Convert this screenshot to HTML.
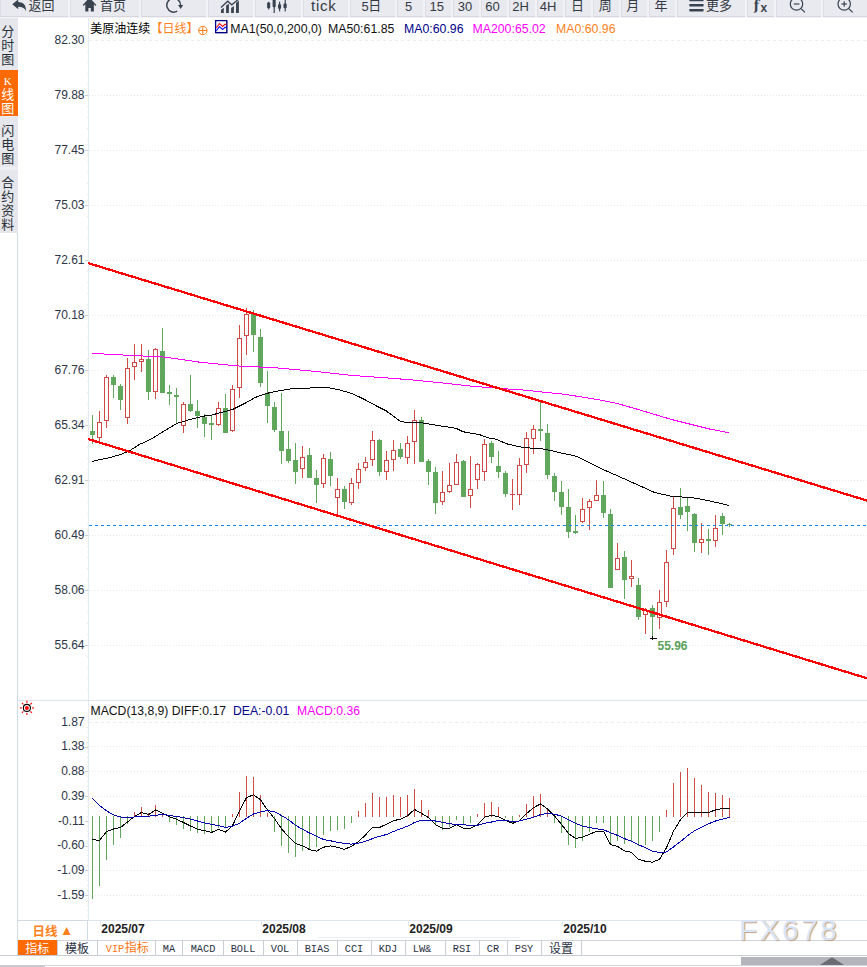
<!DOCTYPE html><html><head><meta charset="utf-8"><title>chart</title><style>
html,body{margin:0;padding:0}
body{width:867px;height:967px;overflow:hidden;background:#fff;position:relative;font-family:"Liberation Sans","Noto Sans CJK SC",sans-serif;}
#tb{position:absolute;left:0;top:0;width:867px;height:18px;background:#f3f3f7;overflow:hidden}
.b{position:absolute;top:0;height:17px;background:#e9eaf0;border-left:1px solid #dddee5;border-bottom:1px solid #d6d7de;box-sizing:border-box;color:#333a44;white-space:nowrap;overflow:hidden}
#tb span{white-space:nowrap;color:#333a44}
.cj{font-size:13px;line-height:13px;top:-1.3px;font-weight:400}
.dg{font-size:13px;line-height:13px;top:-0.4px}
#sb{position:absolute;left:0;top:18px;width:18px;height:215px;background:#eeeff3}
.st{position:absolute;left:0;width:18px;background:#e6e7ed;color:#2a3038;font-size:13px;line-height:14px;text-align:center;box-sizing:border-box;font-weight:400;padding-right:2.4px}
.st.on{background:#ff6a00;color:#fff}
#bt{position:absolute;left:18px;top:940px;height:15px;width:849px;border-top:1px solid #d0d4dc;box-sizing:border-box}
.t{position:absolute;top:-1px;height:15px;border-right:1px solid #c9cdd6;overflow:hidden;box-sizing:border-box;font-family:"Liberation Mono","Noto Sans CJK SC",monospace;font-size:10px;line-height:15px;text-align:center;color:#2a3142;white-space:nowrap}
.t i{display:inline-block;font-style:normal;transform:scale(1.03,1.15);transform-origin:50% 60%;position:relative;top:2px}
</style></head><body>
<svg width="867" height="967" viewBox="0 0 867 967" style="position:absolute;left:0;top:0" font-family='"Liberation Sans","Noto Sans CJK SC",sans-serif'><g shape-rendering="crispEdges" fill="none"><line x1="89" x2="867" y1="40.5" y2="40.5" stroke="#e8edf2" stroke-dasharray="3 3"/><line x1="89" x2="867" y1="95.5" y2="95.5" stroke="#e6ebf1" stroke-dasharray="1 2"/><line x1="89" x2="867" y1="150.5" y2="150.5" stroke="#e6ebf1" stroke-dasharray="1 2"/><line x1="89" x2="867" y1="205.5" y2="205.5" stroke="#e6ebf1" stroke-dasharray="1 2"/><line x1="89" x2="867" y1="260.5" y2="260.5" stroke="#e6ebf1" stroke-dasharray="1 2"/><line x1="89" x2="867" y1="315.5" y2="315.5" stroke="#e6ebf1" stroke-dasharray="1 2"/><line x1="89" x2="867" y1="370.5" y2="370.5" stroke="#e6ebf1" stroke-dasharray="1 2"/><line x1="89" x2="867" y1="425.5" y2="425.5" stroke="#e6ebf1" stroke-dasharray="1 2"/><line x1="89" x2="867" y1="480.5" y2="480.5" stroke="#e6ebf1" stroke-dasharray="1 2"/><line x1="89" x2="867" y1="535.5" y2="535.5" stroke="#e6ebf1" stroke-dasharray="1 2"/><line x1="89" x2="867" y1="590.5" y2="590.5" stroke="#e6ebf1" stroke-dasharray="1 2"/><line x1="89" x2="867" y1="645.5" y2="645.5" stroke="#e6ebf1" stroke-dasharray="1 2"/><line x1="89" x2="867" y1="722.5" y2="722.5" stroke="#e8edf2" stroke-dasharray="3 3"/><line x1="89" x2="867" y1="746.5" y2="746.5" stroke="#e6ebf1" stroke-dasharray="1 2"/><line x1="89" x2="867" y1="771.5" y2="771.5" stroke="#e6ebf1" stroke-dasharray="1 2"/><line x1="89" x2="867" y1="796.5" y2="796.5" stroke="#e6ebf1" stroke-dasharray="1 2"/><line x1="89" x2="867" y1="821.5" y2="821.5" stroke="#e6ebf1" stroke-dasharray="1 2"/><line x1="89" x2="867" y1="845.5" y2="845.5" stroke="#e6ebf1" stroke-dasharray="1 2"/><line x1="89" x2="867" y1="870.5" y2="870.5" stroke="#e6ebf1" stroke-dasharray="1 2"/><line x1="89" x2="867" y1="895.5" y2="895.5" stroke="#e6ebf1" stroke-dasharray="1 2"/><line x1="88.5" x2="88.5" y1="18" y2="921" stroke="#e4eaf1"/><line x1="17.5" x2="17.5" y1="233" y2="956" stroke="#d2dae4"/><line x1="86.5" x2="88" y1="51.5" y2="51.5" stroke="#e4eaf1"/><line x1="86.5" x2="88" y1="62.5" y2="62.5" stroke="#e4eaf1"/><line x1="86.5" x2="88" y1="73.5" y2="73.5" stroke="#e4eaf1"/><line x1="86.5" x2="88" y1="84.5" y2="84.5" stroke="#e4eaf1"/><line x1="85" x2="88" y1="95.5" y2="95.5" stroke="#c9ced6"/><line x1="86.5" x2="88" y1="106.5" y2="106.5" stroke="#e4eaf1"/><line x1="86.5" x2="88" y1="117.5" y2="117.5" stroke="#e4eaf1"/><line x1="86.5" x2="88" y1="128.5" y2="128.5" stroke="#e4eaf1"/><line x1="86.5" x2="88" y1="139.5" y2="139.5" stroke="#e4eaf1"/><line x1="85" x2="88" y1="150.5" y2="150.5" stroke="#c9ced6"/><line x1="86.5" x2="88" y1="161.5" y2="161.5" stroke="#e4eaf1"/><line x1="86.5" x2="88" y1="172.5" y2="172.5" stroke="#e4eaf1"/><line x1="86.5" x2="88" y1="183.5" y2="183.5" stroke="#e4eaf1"/><line x1="86.5" x2="88" y1="194.5" y2="194.5" stroke="#e4eaf1"/><line x1="85" x2="88" y1="205.5" y2="205.5" stroke="#c9ced6"/><line x1="86.5" x2="88" y1="216.5" y2="216.5" stroke="#e4eaf1"/><line x1="86.5" x2="88" y1="227.5" y2="227.5" stroke="#e4eaf1"/><line x1="86.5" x2="88" y1="238.5" y2="238.5" stroke="#e4eaf1"/><line x1="86.5" x2="88" y1="249.5" y2="249.5" stroke="#e4eaf1"/><line x1="85" x2="88" y1="260.5" y2="260.5" stroke="#c9ced6"/><line x1="86.5" x2="88" y1="271.5" y2="271.5" stroke="#e4eaf1"/><line x1="86.5" x2="88" y1="282.5" y2="282.5" stroke="#e4eaf1"/><line x1="86.5" x2="88" y1="293.5" y2="293.5" stroke="#e4eaf1"/><line x1="86.5" x2="88" y1="304.5" y2="304.5" stroke="#e4eaf1"/><line x1="85" x2="88" y1="315.5" y2="315.5" stroke="#c9ced6"/><line x1="86.5" x2="88" y1="326.5" y2="326.5" stroke="#e4eaf1"/><line x1="86.5" x2="88" y1="337.5" y2="337.5" stroke="#e4eaf1"/><line x1="86.5" x2="88" y1="348.5" y2="348.5" stroke="#e4eaf1"/><line x1="86.5" x2="88" y1="359.5" y2="359.5" stroke="#e4eaf1"/><line x1="85" x2="88" y1="370.5" y2="370.5" stroke="#c9ced6"/><line x1="86.5" x2="88" y1="381.5" y2="381.5" stroke="#e4eaf1"/><line x1="86.5" x2="88" y1="392.5" y2="392.5" stroke="#e4eaf1"/><line x1="86.5" x2="88" y1="403.5" y2="403.5" stroke="#e4eaf1"/><line x1="86.5" x2="88" y1="414.5" y2="414.5" stroke="#e4eaf1"/><line x1="85" x2="88" y1="425.5" y2="425.5" stroke="#c9ced6"/><line x1="86.5" x2="88" y1="436.5" y2="436.5" stroke="#e4eaf1"/><line x1="86.5" x2="88" y1="447.5" y2="447.5" stroke="#e4eaf1"/><line x1="86.5" x2="88" y1="458.5" y2="458.5" stroke="#e4eaf1"/><line x1="86.5" x2="88" y1="469.5" y2="469.5" stroke="#e4eaf1"/><line x1="85" x2="88" y1="480.5" y2="480.5" stroke="#c9ced6"/><line x1="86.5" x2="88" y1="491.5" y2="491.5" stroke="#e4eaf1"/><line x1="86.5" x2="88" y1="502.5" y2="502.5" stroke="#e4eaf1"/><line x1="86.5" x2="88" y1="513.5" y2="513.5" stroke="#e4eaf1"/><line x1="86.5" x2="88" y1="524.5" y2="524.5" stroke="#e4eaf1"/><line x1="85" x2="88" y1="535.5" y2="535.5" stroke="#c9ced6"/><line x1="86.5" x2="88" y1="546.5" y2="546.5" stroke="#e4eaf1"/><line x1="86.5" x2="88" y1="557.5" y2="557.5" stroke="#e4eaf1"/><line x1="86.5" x2="88" y1="568.5" y2="568.5" stroke="#e4eaf1"/><line x1="86.5" x2="88" y1="579.5" y2="579.5" stroke="#e4eaf1"/><line x1="85" x2="88" y1="590.5" y2="590.5" stroke="#c9ced6"/><line x1="86.5" x2="88" y1="601.5" y2="601.5" stroke="#e4eaf1"/><line x1="86.5" x2="88" y1="612.5" y2="612.5" stroke="#e4eaf1"/><line x1="86.5" x2="88" y1="623.5" y2="623.5" stroke="#e4eaf1"/><line x1="86.5" x2="88" y1="634.5" y2="634.5" stroke="#e4eaf1"/><line x1="85" x2="88" y1="645.5" y2="645.5" stroke="#c9ced6"/><line x1="86.5" x2="88" y1="656.5" y2="656.5" stroke="#e4eaf1"/><line x1="86.5" x2="88" y1="667.5" y2="667.5" stroke="#e4eaf1"/><line x1="86.5" x2="88" y1="678.5" y2="678.5" stroke="#e4eaf1"/><line x1="86.5" x2="88" y1="689.5" y2="689.5" stroke="#e4eaf1"/><line x1="86.5" x2="88" y1="727.5" y2="727.5" stroke="#e4eaf1"/><line x1="86.5" x2="88" y1="732.5" y2="732.5" stroke="#e4eaf1"/><line x1="86.5" x2="88" y1="737.5" y2="737.5" stroke="#e4eaf1"/><line x1="86.5" x2="88" y1="742.5" y2="742.5" stroke="#e4eaf1"/><line x1="85" x2="88" y1="747.5" y2="747.5" stroke="#c9ced6"/><line x1="86.5" x2="88" y1="752.5" y2="752.5" stroke="#e4eaf1"/><line x1="86.5" x2="88" y1="757.5" y2="757.5" stroke="#e4eaf1"/><line x1="86.5" x2="88" y1="762.5" y2="762.5" stroke="#e4eaf1"/><line x1="86.5" x2="88" y1="766.5" y2="766.5" stroke="#e4eaf1"/><line x1="85" x2="88" y1="771.5" y2="771.5" stroke="#c9ced6"/><line x1="86.5" x2="88" y1="776.5" y2="776.5" stroke="#e4eaf1"/><line x1="86.5" x2="88" y1="781.5" y2="781.5" stroke="#e4eaf1"/><line x1="86.5" x2="88" y1="786.5" y2="786.5" stroke="#e4eaf1"/><line x1="86.5" x2="88" y1="791.5" y2="791.5" stroke="#e4eaf1"/><line x1="85" x2="88" y1="796.5" y2="796.5" stroke="#c9ced6"/><line x1="86.5" x2="88" y1="801.5" y2="801.5" stroke="#e4eaf1"/><line x1="86.5" x2="88" y1="806.5" y2="806.5" stroke="#e4eaf1"/><line x1="86.5" x2="88" y1="811.5" y2="811.5" stroke="#e4eaf1"/><line x1="86.5" x2="88" y1="816.5" y2="816.5" stroke="#e4eaf1"/><line x1="85" x2="88" y1="821.5" y2="821.5" stroke="#c9ced6"/><line x1="86.5" x2="88" y1="826.5" y2="826.5" stroke="#e4eaf1"/><line x1="86.5" x2="88" y1="831.5" y2="831.5" stroke="#e4eaf1"/><line x1="86.5" x2="88" y1="836.5" y2="836.5" stroke="#e4eaf1"/><line x1="86.5" x2="88" y1="841.5" y2="841.5" stroke="#e4eaf1"/><line x1="85" x2="88" y1="846.5" y2="846.5" stroke="#c9ced6"/><line x1="86.5" x2="88" y1="850.5" y2="850.5" stroke="#e4eaf1"/><line x1="86.5" x2="88" y1="855.5" y2="855.5" stroke="#e4eaf1"/><line x1="86.5" x2="88" y1="860.5" y2="860.5" stroke="#e4eaf1"/><line x1="86.5" x2="88" y1="865.5" y2="865.5" stroke="#e4eaf1"/><line x1="85" x2="88" y1="870.5" y2="870.5" stroke="#c9ced6"/><line x1="86.5" x2="88" y1="875.5" y2="875.5" stroke="#e4eaf1"/><line x1="86.5" x2="88" y1="880.5" y2="880.5" stroke="#e4eaf1"/><line x1="86.5" x2="88" y1="885.5" y2="885.5" stroke="#e4eaf1"/><line x1="86.5" x2="88" y1="890.5" y2="890.5" stroke="#e4eaf1"/><line x1="85" x2="88" y1="895.5" y2="895.5" stroke="#c9ced6"/><line x1="86.5" x2="88" y1="900.5" y2="900.5" stroke="#e4eaf1"/><line x1="86.5" x2="88" y1="905.5" y2="905.5" stroke="#e4eaf1"/><line x1="86.5" x2="88" y1="910.5" y2="910.5" stroke="#e4eaf1"/><line x1="86.5" x2="88" y1="915.5" y2="915.5" stroke="#e4eaf1"/><line x1="18" x2="867" y1="700.5" y2="700.5" stroke="#dfe5ee"/><line x1="18" x2="867" y1="920.5" y2="920.5" stroke="#dfe5ee"/><line x1="318" x2="520" y1="937.5" y2="937.5" stroke="#eaeef3"/></g><g shape-rendering="crispEdges"><rect x="92" y="415" width="1" height="29" fill="#60a65c"/><rect x="90" y="431" width="5" height="4" fill="#60a65c"/><rect x="99" y="411" width="1" height="30" fill="#d04a45"/><rect x="97.5" y="422.5" width="4" height="15" fill="#fff" stroke="#d04a45" stroke-width="1"/><rect x="106" y="375" width="1" height="53" fill="#d04a45"/><rect x="104.5" y="377.5" width="4" height="43" fill="#fff" stroke="#d04a45" stroke-width="1"/><rect x="113" y="375" width="1" height="23" fill="#60a65c"/><rect x="111" y="377" width="5" height="8" fill="#60a65c"/><rect x="120" y="384" width="1" height="26" fill="#60a65c"/><rect x="118" y="386" width="5" height="14" fill="#60a65c"/><rect x="127" y="358" width="1" height="66" fill="#d04a45"/><rect x="125.5" y="368.5" width="4" height="49" fill="#fff" stroke="#d04a45" stroke-width="1"/><rect x="134" y="344" width="1" height="36" fill="#d04a45"/><rect x="132.5" y="362.5" width="4" height="4" fill="#fff" stroke="#d04a45" stroke-width="1"/><rect x="141" y="344" width="1" height="28" fill="#d04a45"/><rect x="139.5" y="359.5" width="4" height="2" fill="#fff" stroke="#d04a45" stroke-width="1"/><rect x="148" y="350" width="1" height="50" fill="#60a65c"/><rect x="146" y="359" width="5" height="33" fill="#60a65c"/><rect x="155" y="348" width="1" height="51" fill="#d04a45"/><rect x="153.5" y="349.5" width="4" height="42" fill="#fff" stroke="#d04a45" stroke-width="1"/><rect x="162" y="328" width="1" height="65" fill="#60a65c"/><rect x="160" y="351" width="5" height="42" fill="#60a65c"/><rect x="169" y="385" width="1" height="20" fill="#60a65c"/><rect x="167" y="392" width="5" height="2" fill="#60a65c"/><rect x="176" y="388" width="1" height="35" fill="#60a65c"/><rect x="174" y="395" width="5" height="2" fill="#60a65c"/><rect x="183" y="402" width="1" height="31" fill="#d04a45"/><rect x="181.5" y="404.5" width="4" height="21" fill="#fff" stroke="#d04a45" stroke-width="1"/><rect x="190" y="375" width="1" height="37" fill="#60a65c"/><rect x="188" y="404" width="5" height="7" fill="#60a65c"/><rect x="197" y="400" width="1" height="28" fill="#60a65c"/><rect x="195" y="411" width="5" height="5" fill="#60a65c"/><rect x="204" y="414" width="1" height="23" fill="#60a65c"/><rect x="202" y="417" width="5" height="7" fill="#60a65c"/><rect x="211" y="416" width="1" height="24" fill="#60a65c"/><rect x="209" y="423" width="5" height="2" fill="#60a65c"/><rect x="218" y="402" width="1" height="24" fill="#d04a45"/><rect x="216.5" y="408.5" width="4" height="16" fill="#fff" stroke="#d04a45" stroke-width="1"/><rect x="225" y="394" width="1" height="39" fill="#60a65c"/><rect x="223" y="408" width="5" height="25" fill="#60a65c"/><rect x="232" y="385" width="1" height="47" fill="#d04a45"/><rect x="230.5" y="389.5" width="4" height="41" fill="#fff" stroke="#d04a45" stroke-width="1"/><rect x="239" y="325" width="1" height="73" fill="#d04a45"/><rect x="237.5" y="338.5" width="4" height="49" fill="#fff" stroke="#d04a45" stroke-width="1"/><rect x="246" y="308" width="1" height="47" fill="#d04a45"/><rect x="244.5" y="314.5" width="4" height="21" fill="#fff" stroke="#d04a45" stroke-width="1"/><rect x="253" y="310" width="1" height="42" fill="#60a65c"/><rect x="251" y="313" width="5" height="22" fill="#60a65c"/><rect x="260" y="329" width="1" height="58" fill="#60a65c"/><rect x="258" y="337" width="5" height="46" fill="#60a65c"/><rect x="267" y="371" width="1" height="52" fill="#60a65c"/><rect x="265" y="393" width="5" height="13" fill="#60a65c"/><rect x="274" y="402" width="1" height="30" fill="#60a65c"/><rect x="272" y="407" width="5" height="23" fill="#60a65c"/><rect x="281" y="393" width="1" height="71" fill="#60a65c"/><rect x="279" y="431" width="5" height="20" fill="#60a65c"/><rect x="288" y="431" width="1" height="32" fill="#60a65c"/><rect x="286" y="449" width="5" height="12" fill="#60a65c"/><rect x="295" y="443" width="1" height="41" fill="#60a65c"/><rect x="293" y="460" width="5" height="12" fill="#60a65c"/><rect x="302" y="446" width="1" height="32" fill="#d04a45"/><rect x="300.5" y="457.5" width="4" height="11" fill="#fff" stroke="#d04a45" stroke-width="1"/><rect x="309" y="448" width="1" height="30" fill="#60a65c"/><rect x="307" y="455" width="5" height="23" fill="#60a65c"/><rect x="316" y="470" width="1" height="33" fill="#60a65c"/><rect x="314" y="478" width="5" height="7" fill="#60a65c"/><rect x="323" y="454" width="1" height="34" fill="#d04a45"/><rect x="321.5" y="458.5" width="4" height="25" fill="#fff" stroke="#d04a45" stroke-width="1"/><rect x="330" y="452" width="1" height="34" fill="#60a65c"/><rect x="328" y="459" width="5" height="17" fill="#60a65c"/><rect x="337" y="478" width="1" height="36" fill="#d04a45"/><rect x="335.5" y="489.5" width="4" height="8" fill="#fff" stroke="#d04a45" stroke-width="1"/><rect x="344" y="486" width="1" height="23" fill="#60a65c"/><rect x="342" y="489" width="5" height="13" fill="#60a65c"/><rect x="351" y="478" width="1" height="27" fill="#d04a45"/><rect x="349.5" y="483.5" width="4" height="19" fill="#fff" stroke="#d04a45" stroke-width="1"/><rect x="358" y="463" width="1" height="26" fill="#d04a45"/><rect x="356.5" y="469.5" width="4" height="13" fill="#fff" stroke="#d04a45" stroke-width="1"/><rect x="365" y="457" width="1" height="14" fill="#d04a45"/><rect x="363.5" y="462.5" width="4" height="5" fill="#fff" stroke="#d04a45" stroke-width="1"/><rect x="372" y="431" width="1" height="35" fill="#d04a45"/><rect x="370.5" y="440.5" width="4" height="19" fill="#fff" stroke="#d04a45" stroke-width="1"/><rect x="379" y="439" width="1" height="37" fill="#60a65c"/><rect x="377" y="440" width="5" height="32" fill="#60a65c"/><rect x="386" y="451" width="1" height="29" fill="#d04a45"/><rect x="384.5" y="460.5" width="4" height="11" fill="#fff" stroke="#d04a45" stroke-width="1"/><rect x="393" y="440" width="1" height="31" fill="#d04a45"/><rect x="391.5" y="450.5" width="4" height="9" fill="#fff" stroke="#d04a45" stroke-width="1"/><rect x="400" y="443" width="1" height="16" fill="#60a65c"/><rect x="398" y="449" width="5" height="8" fill="#60a65c"/><rect x="407" y="436" width="1" height="28" fill="#d04a45"/><rect x="405.5" y="443.5" width="4" height="14" fill="#fff" stroke="#d04a45" stroke-width="1"/><rect x="414" y="410" width="1" height="54" fill="#d04a45"/><rect x="412.5" y="420.5" width="4" height="21" fill="#fff" stroke="#d04a45" stroke-width="1"/><rect x="421" y="417" width="1" height="45" fill="#60a65c"/><rect x="419" y="420" width="5" height="42" fill="#60a65c"/><rect x="428" y="459" width="1" height="26" fill="#60a65c"/><rect x="426" y="461" width="5" height="11" fill="#60a65c"/><rect x="435" y="467" width="1" height="47" fill="#60a65c"/><rect x="433" y="472" width="5" height="31" fill="#60a65c"/><rect x="442" y="471" width="1" height="34" fill="#d04a45"/><rect x="440.5" y="492.5" width="4" height="9" fill="#fff" stroke="#d04a45" stroke-width="1"/><rect x="449" y="463" width="1" height="30" fill="#d04a45"/><rect x="447.5" y="485.5" width="4" height="6" fill="#fff" stroke="#d04a45" stroke-width="1"/><rect x="456" y="454" width="1" height="31" fill="#d04a45"/><rect x="454.5" y="462.5" width="4" height="22" fill="#fff" stroke="#d04a45" stroke-width="1"/><rect x="463" y="460" width="1" height="37" fill="#60a65c"/><rect x="461" y="461" width="5" height="36" fill="#60a65c"/><rect x="470" y="456" width="1" height="52" fill="#d04a45"/><rect x="468.5" y="489.5" width="4" height="6" fill="#fff" stroke="#d04a45" stroke-width="1"/><rect x="477" y="463" width="1" height="26" fill="#d04a45"/><rect x="475.5" y="464.5" width="4" height="15" fill="#fff" stroke="#d04a45" stroke-width="1"/><rect x="484" y="439" width="1" height="42" fill="#d04a45"/><rect x="482.5" y="444.5" width="4" height="27" fill="#fff" stroke="#d04a45" stroke-width="1"/><rect x="491" y="441" width="1" height="22" fill="#60a65c"/><rect x="489" y="443" width="5" height="14" fill="#60a65c"/><rect x="498" y="451" width="1" height="27" fill="#60a65c"/><rect x="496" y="466" width="5" height="6" fill="#60a65c"/><rect x="505" y="471" width="1" height="26" fill="#60a65c"/><rect x="503" y="473" width="5" height="21" fill="#60a65c"/><rect x="512" y="479" width="1" height="31" fill="#d04a45"/><rect x="510" y="494" width="5" height="1" fill="#d04a45"/><rect x="519" y="458" width="1" height="47" fill="#d04a45"/><rect x="517.5" y="465.5" width="4" height="29" fill="#fff" stroke="#d04a45" stroke-width="1"/><rect x="526" y="432" width="1" height="41" fill="#d04a45"/><rect x="524.5" y="438.5" width="4" height="26" fill="#fff" stroke="#d04a45" stroke-width="1"/><rect x="533" y="425" width="1" height="29" fill="#d04a45"/><rect x="531.5" y="429.5" width="4" height="9" fill="#fff" stroke="#d04a45" stroke-width="1"/><rect x="540" y="402" width="1" height="39" fill="#60a65c"/><rect x="538" y="429" width="5" height="2" fill="#60a65c"/><rect x="547" y="424" width="1" height="55" fill="#60a65c"/><rect x="545" y="433" width="5" height="42" fill="#60a65c"/><rect x="554" y="473" width="1" height="28" fill="#60a65c"/><rect x="552" y="476" width="5" height="16" fill="#60a65c"/><rect x="561" y="481" width="1" height="34" fill="#60a65c"/><rect x="559" y="492" width="5" height="15" fill="#60a65c"/><rect x="568" y="489" width="1" height="49" fill="#60a65c"/><rect x="566" y="507" width="5" height="25" fill="#60a65c"/><rect x="575" y="515" width="1" height="19" fill="#60a65c"/><rect x="573" y="531" width="5" height="2" fill="#60a65c"/><rect x="582" y="498" width="1" height="25" fill="#d04a45"/><rect x="580.5" y="509.5" width="4" height="12" fill="#fff" stroke="#d04a45" stroke-width="1"/><rect x="589" y="499" width="1" height="31" fill="#d04a45"/><rect x="587.5" y="501.5" width="4" height="6" fill="#fff" stroke="#d04a45" stroke-width="1"/><rect x="596" y="480" width="1" height="21" fill="#d04a45"/><rect x="594.5" y="495.5" width="4" height="5" fill="#fff" stroke="#d04a45" stroke-width="1"/><rect x="603" y="481" width="1" height="37" fill="#60a65c"/><rect x="601" y="495" width="5" height="18" fill="#60a65c"/><rect x="610" y="509" width="1" height="79" fill="#60a65c"/><rect x="608" y="514" width="5" height="74" fill="#60a65c"/><rect x="617" y="543" width="1" height="27" fill="#d04a45"/><rect x="615.5" y="558.5" width="4" height="11" fill="#fff" stroke="#d04a45" stroke-width="1"/><rect x="624" y="551" width="1" height="48" fill="#60a65c"/><rect x="622" y="557" width="5" height="23" fill="#60a65c"/><rect x="631" y="560" width="1" height="27" fill="#d04a45"/><rect x="629.5" y="576.5" width="4" height="2" fill="#fff" stroke="#d04a45" stroke-width="1"/><rect x="638" y="578" width="1" height="42" fill="#60a65c"/><rect x="636" y="585" width="5" height="32" fill="#60a65c"/><rect x="645" y="608" width="1" height="26" fill="#d04a45"/><rect x="643.5" y="610.5" width="4" height="4" fill="#fff" stroke="#d04a45" stroke-width="1"/><rect x="652" y="605" width="1" height="31" fill="#60a65c"/><rect x="650" y="608" width="5" height="9" fill="#60a65c"/><rect x="659" y="590" width="1" height="39" fill="#d04a45"/><rect x="657.5" y="602.5" width="4" height="15" fill="#fff" stroke="#d04a45" stroke-width="1"/><rect x="666" y="550" width="1" height="57" fill="#d04a45"/><rect x="664.5" y="562.5" width="4" height="39" fill="#fff" stroke="#d04a45" stroke-width="1"/><rect x="673" y="497" width="1" height="58" fill="#d04a45"/><rect x="671.5" y="508.5" width="4" height="40" fill="#fff" stroke="#d04a45" stroke-width="1"/><rect x="680" y="488" width="1" height="31" fill="#60a65c"/><rect x="678" y="507" width="5" height="8" fill="#60a65c"/><rect x="687" y="498" width="1" height="33" fill="#60a65c"/><rect x="685" y="506" width="5" height="6" fill="#60a65c"/><rect x="694" y="513" width="1" height="39" fill="#60a65c"/><rect x="692" y="514" width="5" height="29" fill="#60a65c"/><rect x="701" y="523" width="1" height="30" fill="#d04a45"/><rect x="699.5" y="539.5" width="4" height="3" fill="#fff" stroke="#d04a45" stroke-width="1"/><rect x="708" y="529" width="1" height="26" fill="#60a65c"/><rect x="706" y="539" width="5" height="2" fill="#60a65c"/><rect x="715" y="515" width="1" height="32" fill="#d04a45"/><rect x="713.5" y="528.5" width="4" height="12" fill="#fff" stroke="#d04a45" stroke-width="1"/><rect x="722" y="513" width="1" height="22" fill="#60a65c"/><rect x="720" y="516" width="5" height="8" fill="#60a65c"/><rect x="729" y="523" width="1" height="4" fill="#60a65c"/><rect x="727" y="524" width="5" height="1" fill="#60a65c"/></g><line x1="89" x2="867" y1="525.5" y2="525.5" stroke="#0f86ff" stroke-dasharray="3 3" shape-rendering="crispEdges"/><polyline points="92.0,461.5 101.0,459.4 110.6,457.4 122.4,453.9 130.7,450.1 139.0,444.6 145.0,442.1 151.2,439.0 163.3,431.6 176.7,423.5 188.0,420.1 196.0,417.9 205.0,415.9 211.5,415.1 233.0,409.3 246.3,402.6 254.6,397.7 266.2,393.5 279.4,390.7 292.6,388.6 310.0,388.0 319.7,387.5 327.1,387.5 339.5,389.9 351.1,393.2 362.7,398.5 376.0,405.7 385.8,410.6 399.9,421.1 404.8,422.2 421.4,422.7 437.9,425.5 456.2,428.3 462.8,431.7 479.3,434.6 490.0,438.3 496.6,439.3 506.6,443.8 523.1,447.5 544.6,449.1 559.5,452.6 576.1,456.2 589.3,462.8 599.3,467.8 610.0,472.5 638.1,485.0 654.6,492.5 672.8,496.6 691.1,497.4 706.0,500.2 720.0,503.2 728.8,505.6" fill="none" stroke="#000" stroke-width="1" stroke-linejoin="round" shape-rendering="crispEdges"/><polyline points="92.0,353.4 134.5,355.6 165.0,357.1 199.2,362.1 237.3,365.9 275.3,367.8 313.4,371.2 351.5,375.4 389.5,378.1 415.0,380.2 443.1,383.0 470.0,386.0 488.5,387.5 506.9,388.9 525.4,390.2 543.8,392.2 562.3,394.0 580.7,396.8 599.2,399.9 617.6,403.6 633.4,408.1 671.5,419.5 709.5,429.0 728.6,432.8" fill="none" stroke="#ff00ff" stroke-width="1" stroke-linejoin="round" shape-rendering="crispEdges"/><line x1="88" y1="263.1" x2="869" y2="501.2" stroke="#ff0000" stroke-width="2.3" shape-rendering="crispEdges"/><line x1="88" y1="439.0" x2="869" y2="678.9" stroke="#ff0000" stroke-width="2.3" shape-rendering="crispEdges"/><g shape-rendering="crispEdges"><rect x="650" y="638" width="7" height="1" fill="#000"/><rect x="652" y="636" width="1" height="4" fill="#000"/></g><text x="657.5" y="649.6" font-size="12" font-weight="bold" fill="#5aa05a">55.96</text><g shape-rendering="crispEdges"><rect x="92" y="816" width="1" height="83" fill="#60a65c"/><rect x="99" y="816" width="1" height="70" fill="#60a65c"/><rect x="106" y="816" width="1" height="44" fill="#60a65c"/><rect x="113" y="816" width="1" height="29" fill="#60a65c"/><rect x="120" y="816" width="1" height="22" fill="#60a65c"/><rect x="127" y="816" width="1" height="8" fill="#60a65c"/><rect x="134" y="812" width="1" height="5" fill="#d04a45"/><rect x="141" y="807" width="1" height="10" fill="#d04a45"/><rect x="148" y="813" width="1" height="4" fill="#d04a45"/><rect x="155" y="805" width="1" height="12" fill="#d04a45"/><rect x="162" y="813" width="1" height="4" fill="#d04a45"/><rect x="169" y="816" width="1" height="6" fill="#60a65c"/><rect x="176" y="816" width="1" height="9" fill="#60a65c"/><rect x="183" y="816" width="1" height="13" fill="#60a65c"/><rect x="190" y="816" width="1" height="15" fill="#60a65c"/><rect x="197" y="816" width="1" height="17" fill="#60a65c"/><rect x="204" y="816" width="1" height="18" fill="#60a65c"/><rect x="211" y="816" width="1" height="17" fill="#60a65c"/><rect x="218" y="816" width="1" height="12" fill="#60a65c"/><rect x="225" y="816" width="1" height="11" fill="#60a65c"/><rect x="232" y="814" width="1" height="3" fill="#d04a45"/><rect x="239" y="792" width="1" height="25" fill="#d04a45"/><rect x="246" y="776" width="1" height="41" fill="#d04a45"/><rect x="253" y="777" width="1" height="40" fill="#d04a45"/><rect x="260" y="795" width="1" height="22" fill="#d04a45"/><rect x="267" y="813" width="1" height="4" fill="#d04a45"/><rect x="274" y="816" width="1" height="16" fill="#60a65c"/><rect x="281" y="816" width="1" height="30" fill="#60a65c"/><rect x="288" y="816" width="1" height="37" fill="#60a65c"/><rect x="295" y="816" width="1" height="41" fill="#60a65c"/><rect x="302" y="816" width="1" height="35" fill="#60a65c"/><rect x="309" y="816" width="1" height="33" fill="#60a65c"/><rect x="316" y="816" width="1" height="31" fill="#60a65c"/><rect x="323" y="816" width="1" height="19" fill="#60a65c"/><rect x="330" y="816" width="1" height="15" fill="#60a65c"/><rect x="337" y="816" width="1" height="14" fill="#60a65c"/><rect x="344" y="816" width="1" height="13" fill="#60a65c"/><rect x="351" y="816" width="1" height="7" fill="#60a65c"/><rect x="358" y="811" width="1" height="6" fill="#d04a45"/><rect x="365" y="803" width="1" height="14" fill="#d04a45"/><rect x="372" y="793" width="1" height="24" fill="#d04a45"/><rect x="379" y="797" width="1" height="20" fill="#d04a45"/><rect x="386" y="797" width="1" height="20" fill="#d04a45"/><rect x="393" y="795" width="1" height="22" fill="#d04a45"/><rect x="400" y="797" width="1" height="20" fill="#d04a45"/><rect x="407" y="795" width="1" height="22" fill="#d04a45"/><rect x="414" y="789" width="1" height="28" fill="#d04a45"/><rect x="421" y="800" width="1" height="17" fill="#d04a45"/><rect x="428" y="810" width="1" height="7" fill="#d04a45"/><rect x="435" y="816" width="1" height="9" fill="#60a65c"/><rect x="442" y="816" width="1" height="14" fill="#60a65c"/><rect x="449" y="816" width="1" height="11" fill="#60a65c"/><rect x="456" y="816" width="1" height="4" fill="#60a65c"/><rect x="463" y="816" width="1" height="8" fill="#60a65c"/><rect x="470" y="816" width="1" height="7" fill="#60a65c"/><rect x="477" y="814" width="1" height="3" fill="#d04a45"/><rect x="484" y="803" width="1" height="14" fill="#d04a45"/><rect x="491" y="802" width="1" height="15" fill="#d04a45"/><rect x="498" y="807" width="1" height="10" fill="#d04a45"/><rect x="505" y="816" width="1" height="2" fill="#60a65c"/><rect x="512" y="816" width="1" height="7" fill="#60a65c"/><rect x="519" y="815" width="1" height="2" fill="#d04a45"/><rect x="526" y="804" width="1" height="13" fill="#d04a45"/><rect x="533" y="796" width="1" height="21" fill="#d04a45"/><rect x="540" y="794" width="1" height="23" fill="#d04a45"/><rect x="547" y="809" width="1" height="8" fill="#d04a45"/><rect x="554" y="816" width="1" height="7" fill="#60a65c"/><rect x="561" y="816" width="1" height="17" fill="#60a65c"/><rect x="568" y="816" width="1" height="29" fill="#60a65c"/><rect x="575" y="816" width="1" height="32" fill="#60a65c"/><rect x="582" y="816" width="1" height="25" fill="#60a65c"/><rect x="589" y="816" width="1" height="16" fill="#60a65c"/><rect x="596" y="816" width="1" height="7" fill="#60a65c"/><rect x="603" y="816" width="1" height="7" fill="#60a65c"/><rect x="610" y="816" width="1" height="27" fill="#60a65c"/><rect x="617" y="816" width="1" height="25" fill="#60a65c"/><rect x="624" y="816" width="1" height="28" fill="#60a65c"/><rect x="631" y="816" width="1" height="25" fill="#60a65c"/><rect x="638" y="816" width="1" height="30" fill="#60a65c"/><rect x="645" y="816" width="1" height="29" fill="#60a65c"/><rect x="652" y="816" width="1" height="25" fill="#60a65c"/><rect x="659" y="816" width="1" height="16" fill="#60a65c"/><rect x="666" y="810" width="1" height="7" fill="#d04a45"/><rect x="673" y="783" width="1" height="34" fill="#d04a45"/><rect x="680" y="772" width="1" height="45" fill="#d04a45"/><rect x="687" y="768" width="1" height="49" fill="#d04a45"/><rect x="694" y="778" width="1" height="39" fill="#d04a45"/><rect x="701" y="785" width="1" height="32" fill="#d04a45"/><rect x="708" y="792" width="1" height="25" fill="#d04a45"/><rect x="715" y="793" width="1" height="24" fill="#d04a45"/><rect x="722" y="795" width="1" height="22" fill="#d04a45"/><rect x="729" y="798" width="1" height="19" fill="#d04a45"/></g><polyline points="92.5,839.5 99.5,840.4 106.5,831.7 113.5,829.0 120.5,827.5 127.5,822.0 134.5,816.4 141.5,812.4 148.5,814.6 155.5,810.0 162.5,813.1 169.5,816.8 176.5,819.2 183.5,822.5 190.5,826.0 197.5,829.3 204.5,830.6 211.5,832.5 218.5,829.3 225.5,832.1 232.5,825.6 239.5,810.9 246.5,797.6 253.5,794.8 260.5,799.8 267.5,810.0 274.5,818.6 281.5,828.8 288.5,836.7 295.5,843.7 302.5,845.6 309.5,849.6 316.5,851.1 323.5,847.2 330.5,845.9 337.5,847.4 344.5,849.3 351.5,846.3 358.5,841.7 365.5,834.9 372.5,827.5 379.5,827.5 386.5,824.1 393.5,820.6 400.5,819.2 407.5,815.9 414.5,809.4 421.5,813.3 428.5,817.7 435.5,824.7 442.5,828.4 449.5,828.4 456.5,824.7 463.5,828.4 470.5,828.4 477.5,824.7 484.5,817.3 491.5,815.1 498.5,816.8 505.5,820.1 512.5,823.4 519.5,820.7 526.5,813.7 533.5,807.6 540.5,803.9 547.5,809.0 554.5,815.9 561.5,824.4 568.5,833.4 575.5,838.6 582.5,837.1 589.5,834.3 596.5,831.2 603.5,831.2 610.5,844.5 617.5,846.3 624.5,850.9 631.5,852.4 638.5,859.2 645.5,861.3 652.5,862.2 659.5,859.2 666.5,847.8 673.5,831.2 680.5,819.7 687.5,812.4 694.5,812.4 701.5,812.4 708.5,812.4 715.5,810.0 722.5,808.3 729.5,808.3" fill="none" stroke="#000" stroke-width="1" stroke-linejoin="round" shape-rendering="crispEdges"/><polyline points="92.5,798.3 99.5,805.4 106.5,810.9 113.5,814.9 120.5,817.0 127.5,817.9 134.5,817.0 141.5,816.1 148.5,816.1 155.5,815.5 162.5,814.2 169.5,815.5 176.5,816.4 183.5,817.7 190.5,819.2 197.5,821.0 204.5,822.9 211.5,824.4 218.5,825.6 225.5,827.5 232.5,826.2 239.5,823.2 246.5,818.3 253.5,814.0 260.5,811.8 267.5,810.5 274.5,811.8 281.5,815.5 288.5,819.7 295.5,825.3 302.5,829.3 309.5,833.0 316.5,836.3 323.5,839.5 330.5,840.8 337.5,842.3 344.5,843.5 351.5,844.1 358.5,843.2 365.5,841.3 372.5,838.6 379.5,836.3 386.5,834.5 393.5,831.5 400.5,828.8 407.5,826.2 414.5,822.5 421.5,820.1 428.5,820.1 435.5,821.0 442.5,822.3 449.5,823.8 456.5,824.4 463.5,824.7 470.5,825.6 477.5,825.3 484.5,823.4 491.5,822.0 498.5,820.5 505.5,820.5 512.5,821.4 519.5,821.0 526.5,819.2 533.5,817.3 540.5,814.6 547.5,813.3 554.5,814.2 561.5,816.1 568.5,819.7 575.5,823.2 582.5,826.2 589.5,827.5 596.5,828.8 603.5,829.7 610.5,832.7 617.5,835.4 624.5,838.6 631.5,841.3 638.5,844.6 645.5,847.8 652.5,851.1 659.5,852.4 666.5,852.0 673.5,846.9 680.5,841.6 687.5,835.7 694.5,830.8 701.5,827.1 708.5,823.8 715.5,821.0 722.5,819.2 729.5,817.3" fill="none" stroke="#0000b0" stroke-width="1" stroke-linejoin="round" shape-rendering="crispEdges"/><text x="84.5" y="43.8" font-size="12" fill="#2e3548" text-anchor="end">82.30</text><text x="84.5" y="98.8" font-size="12" fill="#2e3548" text-anchor="end">79.88</text><text x="84.5" y="153.8" font-size="12" fill="#2e3548" text-anchor="end">77.45</text><text x="84.5" y="208.8" font-size="12" fill="#2e3548" text-anchor="end">75.03</text><text x="84.5" y="263.8" font-size="12" fill="#2e3548" text-anchor="end">72.61</text><text x="84.5" y="318.8" font-size="12" fill="#2e3548" text-anchor="end">70.18</text><text x="84.5" y="373.8" font-size="12" fill="#2e3548" text-anchor="end">67.76</text><text x="84.5" y="428.8" font-size="12" fill="#2e3548" text-anchor="end">65.34</text><text x="84.5" y="483.8" font-size="12" fill="#2e3548" text-anchor="end">62.91</text><text x="84.5" y="538.8" font-size="12" fill="#2e3548" text-anchor="end">60.49</text><text x="84.5" y="593.8" font-size="12" fill="#2e3548" text-anchor="end">58.06</text><text x="84.5" y="648.8" font-size="12" fill="#2e3548" text-anchor="end">55.64</text><text x="84.5" y="725.6" font-size="12" fill="#2e3548" text-anchor="end">1.87</text><text x="84.5" y="749.6" font-size="12" fill="#2e3548" text-anchor="end">1.38</text><text x="84.5" y="774.6" font-size="12" fill="#2e3548" text-anchor="end">0.88</text><text x="84.5" y="799.6" font-size="12" fill="#2e3548" text-anchor="end">0.39</text><text x="84.5" y="824.6" font-size="12" fill="#2e3548" text-anchor="end">-0.11</text><text x="84.5" y="848.6" font-size="12" fill="#2e3548" text-anchor="end">-0.60</text><text x="84.5" y="873.6" font-size="12" fill="#2e3548" text-anchor="end">-1.09</text><text x="84.5" y="898.6" font-size="12" fill="#2e3548" text-anchor="end">-1.59</text><text x="90.3" y="33.3" font-size="12" fill="#000">美原油连续</text><text x="150.5" y="33.3" font-size="12" fill="#ff7f1a">【日线】</text><g stroke="#ff7f1a" fill="none" stroke-width="1"><circle cx="202.8" cy="30.5" r="4.2"/><line x1="198.6" x2="207" y1="30.5" y2="30.5"/><line x1="202.8" x2="202.8" y1="26.3" y2="34.7"/></g><g><rect x="216.2" y="21.2" width="11.6" height="12.4" fill="#b8b8b8"/><rect x="215.6" y="20.6" width="11.2" height="12" fill="#fff" stroke="#00008b" stroke-width="1.3"/><polyline points="216.4,27.8 219.4,23.6 222.6,26.5 225,24.4 226.3,24.4" fill="none" stroke="#ff1010" stroke-width="1.1"/><polyline points="216.4,30.8 219.4,26.6 222.6,29.5 225,27.4 226.3,27.4" fill="none" stroke="#1010ff" stroke-width="1.1"/></g><text x="230.3" y="33" font-size="12.3" fill="#111">MA1(50,0,200,0)</text><text x="328" y="33" font-size="12.3" fill="#111">MA50:61.85</text><text x="404" y="33" font-size="12.3" fill="#00008b">MA0:60.96</text><text x="472.5" y="33" font-size="12.3" fill="#ff00ff">MA200:65.02</text><text x="556" y="33" font-size="12.3" fill="#ff7f1a">MA0:60.96</text><text x="90.5" y="715" font-size="12.2" fill="#111">MACD(13,8,9) DIFF:0.17</text><text x="233" y="715" font-size="12.2" fill="#00008b">DEA:-0.01</text><text x="297" y="715" font-size="12.2" fill="#ff00ff">MACD:0.36</text><g transform="translate(26.9,707.9)"><circle r="3.5" fill="none" stroke="#000" stroke-width="1.1"/><circle r="2" fill="#ff0000"/><g stroke="#ff0000" stroke-width="1.1"><line x1="5.00" y1="0.00" x2="7.10" y2="0.00"/><line x1="-5.00" y1="0.00" x2="-7.10" y2="0.00"/><line x1="0.00" y1="5.00" x2="0.00" y2="7.10"/><line x1="0.00" y1="-5.00" x2="0.00" y2="-7.10"/><line x1="3.53" y1="3.53" x2="5.02" y2="5.02"/><line x1="-3.53" y1="3.53" x2="-5.02" y2="5.02"/><line x1="3.53" y1="-3.53" x2="5.02" y2="-5.02"/><line x1="-3.53" y1="-3.53" x2="-5.02" y2="-5.02"/></g></g><rect x="100" y="921" width="1" height="5" fill="#e4eaf1" shape-rendering="crispEdges"/><text x="101.3" y="933" font-size="12" font-weight="bold" fill="#222">2025/07</text><rect x="261" y="921" width="1" height="5" fill="#e4eaf1" shape-rendering="crispEdges"/><text x="262.3" y="933" font-size="12" font-weight="bold" fill="#222">2025/08</text><rect x="408" y="921" width="1" height="5" fill="#e4eaf1" shape-rendering="crispEdges"/><text x="409.3" y="933" font-size="12" font-weight="bold" fill="#222">2025/09</text><rect x="562" y="921" width="1" height="5" fill="#e4eaf1" shape-rendering="crispEdges"/><text x="563.3" y="933" font-size="12" font-weight="bold" fill="#222">2025/10</text></svg>
<div id="tb">
<div class="b" style="left:0px;width:68px"></div>
<div class="b" style="left:70px;width:69px"></div>
<div class="b" style="left:141px;width:65px"></div>
<div class="b" style="left:208px;width:45px"></div>
<div class="b" style="left:255px;width:46px"></div>
<div class="b" style="left:303px;width:45px"></div>
<div class="b" style="left:350px;width:45px"></div>
<div class="b" style="left:397px;width:26px"></div>
<div class="b" style="left:425px;width:26px"></div>
<div class="b" style="left:453px;width:26px"></div>
<div class="b" style="left:481px;width:26px"></div>
<div class="b" style="left:509px;width:26px"></div>
<div class="b" style="left:537px;width:26px"></div>
<div class="b" style="left:565px;width:26px"></div>
<div class="b" style="left:593px;width:26px"></div>
<div class="b" style="left:621px;width:26px"></div>
<div class="b" style="left:649px;width:26px"></div>
<div class="b" style="left:677px;width:68px"></div>
<div class="b" style="left:747px;width:27px"></div>
<div class="b" style="left:776px;width:45px"></div>
<div class="b" style="left:823px;width:44px"></div>
<span class="cj" style="position:absolute;left:28.6px;">返回</span><span class="cj" style="position:absolute;left:100px;">首页</span><span style="position:absolute;left:311px;top:-3.1px;font-size:15px;line-height:18px;letter-spacing:0.75px;color:#333a44">tick</span><span class="dg" style="position:absolute;left:361.5px;">5</span><span class="cj" style="position:absolute;left:368.3px;">日</span><span class="dg" style="position:absolute;left:388.7px;width:40px;text-align:center">5</span><span class="dg" style="position:absolute;left:416.7px;width:40px;text-align:center">15</span><span class="dg" style="position:absolute;left:444.9px;width:40px;text-align:center">30</span><span class="dg" style="position:absolute;left:472.5px;width:40px;text-align:center">60</span><span class="dg" style="position:absolute;left:500.5px;width:40px;text-align:center">2H</span><span class="dg" style="position:absolute;left:528.1px;width:40px;text-align:center">4H</span><span class="cj" style="position:absolute;left:557.5px;width:40px;text-align:center">日</span><span class="cj" style="position:absolute;left:585.3px;width:40px;text-align:center">周</span><span class="cj" style="position:absolute;left:612.7px;width:40px;text-align:center">月</span><span class="cj" style="position:absolute;left:641px;width:40px;text-align:center">年</span><span class="cj" style="position:absolute;left:706px;">更多</span><span style="position:absolute;left:754.8px;top:-3.2px;font-size:13px;line-height:18px;font-weight:bold;font-style:italic;font-family:'DejaVu Serif',serif;color:#3a4450;transform:skewX(9deg) scale(1,1.08);transform-origin:50% 100%">f</span><span style="position:absolute;left:760.4px;top:2.1px;font-size:12px;line-height:13px;font-weight:bold;color:#3a4450">x</span>
<svg style="position:absolute;left:0;top:0" width="867" height="18" viewBox="0 0 867 18"><g fill="#3a4450"><path d="M12.3 4.3 L18.2 -0.6 L18.2 2 C23.2 2 26.2 5 26 10.9 C24.6 8 22 6.7 18.2 6.7 L18.2 9.3 Z"/><path d="M89.5 -2.5 L82.7 5 L83.6 5.9 L85.3 4.2 L85.3 11.4 L88.4 11.4 L88.4 8 L90.8 8 L90.8 11.4 L93.9 11.4 L93.9 4.2 L95.6 5.9 L96.4 5 Z"/><path d="M178.1 5 L183.2 5 L180.6 8.9 Z"/><path d="M221 9.8 L223.8 7.8 L223.8 13 L221 13 Z"/><path d="M226.1 5.6 L228.9 3.8 L228.9 13 L226.1 13 Z"/><path d="M231.1 8 L233.9 6 L233.9 13 L231.1 13 Z"/><path d="M236 3 L238.9 0.6 L238.9 13 L236 13 Z"/><rect x="267.1" y="2.6" width="3.1" height="5.7" rx="0.8"/><rect x="268.1" y="1.8" width="1.1" height="7.6"/><rect x="272.6" y="-1" width="3.1" height="8.3" rx="0.8"/><rect x="273.6" y="0" width="1.2" height="13"/><rect x="278" y="4.2" width="3.1" height="4.6" rx="0.8"/><rect x="279" y="1.6" width="1.2" height="9.8"/><rect x="283.5" y="3.6" width="3.2" height="4.7" rx="0.8"/><rect x="284.6" y="0" width="1.2" height="11.4"/><rect x="689.3" y="-1" width="14.3" height="2.3" rx="0.6"/><rect x="689.3" y="4" width="14.3" height="2.4" rx="0.6"/><rect x="689.3" y="9" width="14.3" height="2.4" rx="0.6"/></g><g fill="none" stroke="#3a4450"><path d="M180.6 5.2 A6.9 6.9 0 1 0 177.2 11.15" stroke-width="1.5"/><polyline points="221,7.4 227.7,1.2 231.8,4.8 238.6,-0.8" stroke-width="1.3"/><circle cx="796.5" cy="4" r="6.2" stroke-width="1.2"/><line x1="793.8" x2="799.4" y1="4" y2="4" stroke-width="1.2"/><line x1="801" y1="8.6" x2="805" y2="12.4" stroke-width="1.3"/><circle cx="844.2" cy="4" r="6.2" stroke-width="1.2"/><line x1="841.4" x2="847" y1="4" y2="4" stroke-width="1.2"/><line x1="844.2" x2="844.2" y1="1.2" y2="6.8" stroke-width="1.2"/><line x1="848.7" y1="8.6" x2="852.7" y2="12.4" stroke-width="1.3"/></g></svg>
</div>
<div id="sb">
<div class="st" style="top:0px;height:51.5px;padding-top:7.2px">分<br>时<br>图</div>
<div class="st on" style="top:52px;height:45.599999999999994px;padding-top:4px"><span style="font-family:Liberation Serif,serif;font-size:11px">K</span><br>线<br>图</div>
<div class="st" style="top:99.4px;height:50.0px;padding-top:6.4px">闪<br>电<br>图</div>
<div class="st" style="top:151.8px;height:63.099999999999994px;padding-top:6.4px">合<br>约<br>资<br>料</div>
</div>
<div style="position:absolute;left:18px;top:920px;width:69px;height:19px;border:1px solid #d3d9e2;border-left:none;box-sizing:content-box;background:#fff;color:#ff7f1a;font-weight:bold;font-size:12.5px;line-height:20px;white-space:nowrap"><span style="position:absolute;left:14.5px;top:0.5px">日线</span><span style="position:absolute;left:42px;top:0px;font-size:13.5px;font-weight:normal">▲</span></div>
<div id="bt">
<div class="t" style="left:0px;width:39.5px;background:#ff6a00;color:#fff;line-height:19px;font-family:'Liberation Sans','Noto Sans CJK SC',sans-serif;font-size:12px;">指标</div>
<div class="t" style="left:39.5px;width:40.0px;line-height:19px;font-family:'Liberation Sans','Noto Sans CJK SC',sans-serif;font-size:12px;font-weight:400;">模板</div>
<div class="t" style="left:79.5px;width:58.0px;color:#ff7410;padding-left:3px;"><i>VIP</i><span style="font-size:12px;position:relative;top:2.4px;margin-left:0.5px">指标</span></div>
<div class="t" style="left:137.5px;width:27.5px;"><i>MA</i></div>
<div class="t" style="left:165px;width:40.5px;"><i>MACD</i></div>
<div class="t" style="left:205.5px;width:40.0px;"><i>BOLL</i></div>
<div class="t" style="left:245.5px;width:34.0px;"><i>VOL</i></div>
<div class="t" style="left:279.5px;width:40.0px;"><i>BIAS</i></div>
<div class="t" style="left:319.5px;width:34.0px;"><i>CCI</i></div>
<div class="t" style="left:353.5px;width:34.0px;"><i>KDJ</i></div>
<div class="t" style="left:387.5px;width:40.0px;padding-right:5px;"><i>LW&amp;</i></div>
<div class="t" style="left:427.5px;width:34.0px;"><i>RSI</i></div>
<div class="t" style="left:461.5px;width:28.0px;"><i>CR</i></div>
<div class="t" style="left:489.5px;width:34.0px;"><i>PSY</i></div>
<div class="t" style="left:523.5px;width:40.0px;line-height:19px;font-family:'Liberation Sans','Noto Sans CJK SC',sans-serif;font-size:12px;font-weight:400;">设置</div>
</div>
<div style="position:absolute;left:0;top:955px;width:867px;height:12px;background:#fff;border-top:1px solid #c8ccd4;box-sizing:border-box"></div>
<div style="position:absolute;left:741px;top:957px;width:126px;height:8px;background:#b4b5bc"></div>
<svg style="position:absolute;left:818px;top:957px" width="28" height="8" viewBox="0 0 28 8"><path d="M2 8 L13 0.8 L15 0.8 L26 8 Z" fill="#6c6d73"/></svg>
<div style="position:absolute;left:0;top:965px;width:867px;height:1px;background:#d4d7de"></div>
<div style="position:absolute;left:0;top:965px;width:45px;height:2px;background:#c9cad0"></div>
<div style="position:absolute;left:739px;top:914px;font-size:29.5px;line-height:32px;letter-spacing:2.7px;color:#d9e5f6;text-shadow:1px 1px 1px #c4a088;white-space:nowrap">FX678</div>
</body></html>
